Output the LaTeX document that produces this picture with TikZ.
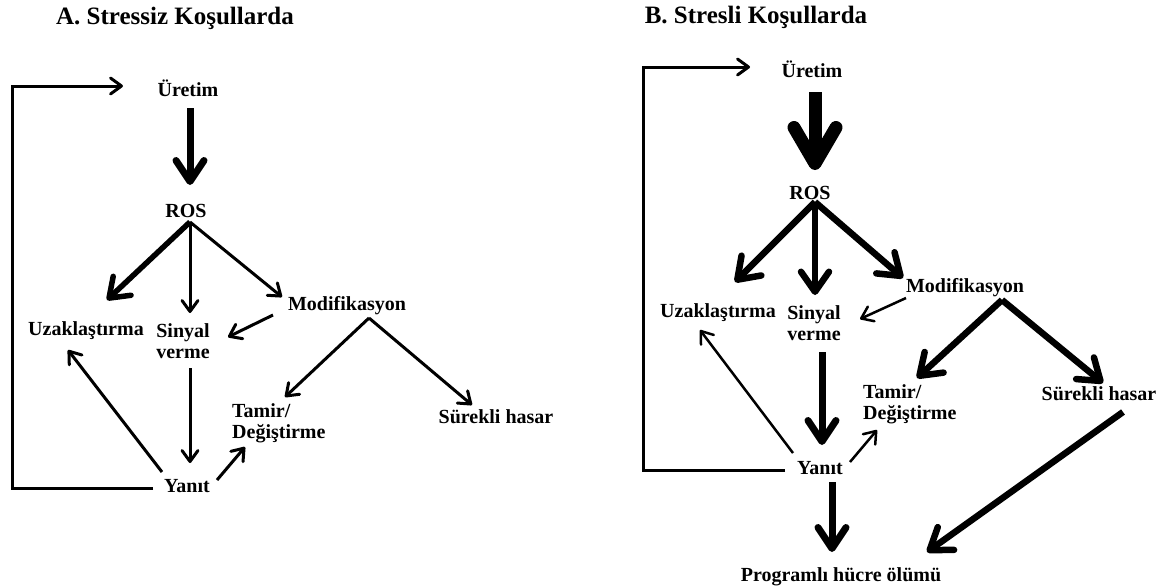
\documentclass[tikz,border=0pt]{standalone}
\usepackage{fontspec}
\setmainfont{Liberation Serif}
\usetikzlibrary{calc,arrows.meta}

\begin{document}
\begin{tikzpicture}
[%
    x=1pt, y=-1pt,
    term/.style={
      inner sep=0pt,
      font=\fontsize{20}{21}\selectfont\bfseries
    },
    term1/.style={
      term,
      align=center
    },
    term2/.style={
      term,
      align=left,
      anchor=west
    },
    title/.style={
      inner sep=0pt,
      font=\fontsize{25}{28}\selectfont\bfseries
    },
    arr/.style={line width=3pt, -{Straight Barb[length=11pt,width=16pt,round]}},
    arr1/.style={line width=2.5pt, -{Straight Barb[length=11pt,width=16pt,round]}},
    arr2/.style={line width=5.5pt, -{Straight Barb[length=18pt,width=26pt,round]}},
    arr3/.style={line width=6.5pt, -{Straight Barb[length=20pt,width=28pt,round]}},
    arr4/.style={line width=7pt, -{Straight Barb[length=21pt,width=28pt,round]}},
    arr5/.style={line width=13pt, -{Straight Barb[length=36pt,width=42pt,round]}}
  ]
  \useasboundingbox (0,0) rectangle (1175,587);

  %Stressiz
    \draw (175,18) node[title] (titleA) {A. Stressiz\ Koşullarda};
    \draw (188,88) node[term] (uretA) {Üretim};
    \draw (186,211) node[term] (rosA) {ROS};
    \draw (86,331) node[term] (uzakA) {Uzaklaştırma};
    \draw (183,341) node[term1] (sinyalA) {Sinyal\\verme};
    \draw (347,306) node[term] (modA) {Modifikasyon};
    \draw (232,423) node[term2] (tamirA) {Tamir/\\Değiştirme};
    \draw (496,417) node[term] (surekA) {Sürekli hasar};
    \draw (187,486) node[term] (yanitA) {Yanıt};

    \draw[arr4] ($(uretA)+(2,20)$) -- ($(rosA)+(4,-26)$);
    \draw[arr2] ($(rosA)+(4,11)$) -- ($(uzakA)+(21,-31)$);
    \draw[arr] ($(rosA)+(4,11)$) -- ($(sinyalA)+(7,-28)$);
    \draw[arr] ($(rosA)+(4,11)$) -- ($(modA)+(-65,-9)$);
    \draw[arr] ($(modA)+(-74,9)$) -- ($(sinyalA)+(45,-4)$);
    \draw[arr] ($(modA)+(22,12)$) -- ($(tamirA.west)+(53,-26)$);
    \draw[arr] ($(modA)+(22,12)$) -- ($(surekA)+(-24,-12)$);
    \draw[arr] ($(sinyalA)+(7,27)$) -- ($(yanitA)+(3,-23)$);
    \draw[arr] ($(yanitA)+(-25,-14)$) -- ($(uzakA)+(-18,19)$);
    \draw[arr] ($(yanitA)+(30,-6)$) -- ($(tamirA.west)+(13,24)$);
    \draw[arr] ($(yanitA)+(-34,2)$) -| ($(uretA)+(-176,-2)$) -- ($(uretA)+(-65,-2)$);

  %Stresli
    \draw (756,17) node[title] (titleB) {B. Stresli\ Koşullarda};
    \draw (812,69) node[term] (uretB) {Üretim};
    \draw (810,193) node[term] (rosB) {ROS};
    \draw (718,313) node[term] (uzakB) {Uzaklaştırma};
    \draw (814,323) node[term1] (sinyalB) {Sinyal\\verme};
    \draw (965,288) node[term] (modB) {Modifikasyon};
    \draw (863,404) node[term2] (tamirB) {Tamir/\\Değiştirme};
    \draw (1099,394) node[term] (surekB) {Sürekli hasar};
    \draw (820,468) node[term] (yanitB) {Yanıt};
    \draw (841,577) node[term] (progB) {Programlı hücre ölümü};

    \draw[arr5] ($(uretB)+(3,23)$) -- ($(rosB)+(5,-23)$);
    \draw[arr3] ($(rosB)+(5,9)$) -- ($(uzakB)+(17,-31)$);
    \draw[arr3] ($(rosB)+(5,9)$) -- ($(sinyalB)+(1,-28)$);
    \draw[arr3] ($(rosB)+(5,9)$) -- ($(modB)+(-62,-10)$);
    \draw[arr1] ($(modB)+(-59,10)$) -- ($(sinyalB)+(46,-4)$);
    \draw[arr3] ($(modB)+(37,12)$) -- ($(tamirB.west)+(54,-26)$);
    \draw[arr3] ($(modB)+(37,12)$) -- ($(surekB)+(4,-11)$);
    \draw[arr4] ($(sinyalB)+(8,29)$) -- ($(yanitB)+(2,-23)$);
    \draw[arr1] ($(yanitB)+(-27,-15)$) -- ($(uzakB)+(-18,17)$);
    \draw[arr1] ($(yanitB)+(30,-6)$) -- ($(tamirB.west)+(14,26)$);
    \draw[arr4] ($(yanitB)+(12,14)$) -- ($(progB)+(-9,-25)$);
    \draw[arr3] ($(surekB)+(24,18)$) -- ($(progB)+(86,-25)$);
    \draw[arr] ($(yanitB)+(-35,2)$) -| ($(uretB)+(-169,-2)$) -- ($(uretB)+(-62,-2)$);

\end{tikzpicture}
\end{document}
